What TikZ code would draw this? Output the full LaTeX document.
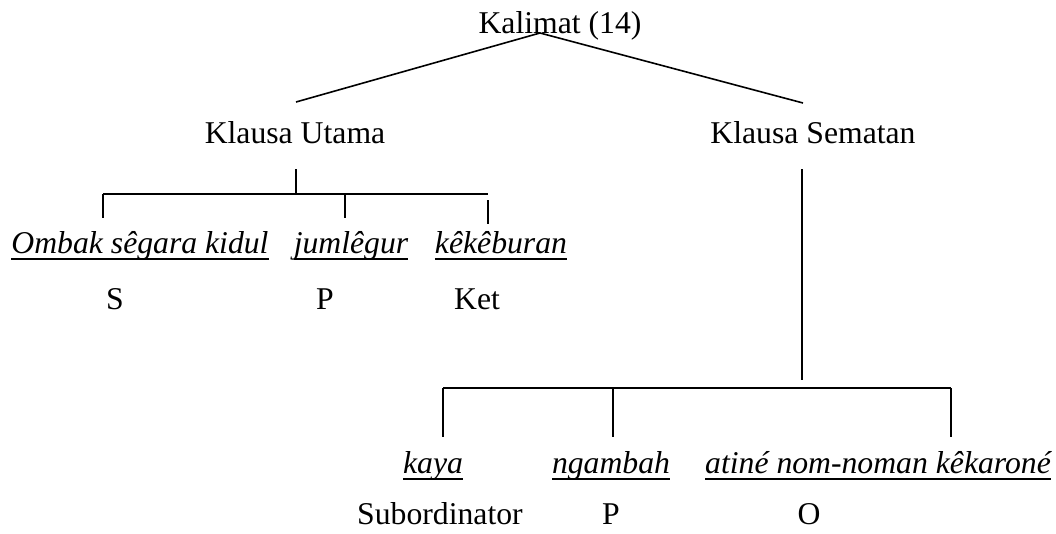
\documentclass[tikz,border=0pt]{standalone}
\usepackage{fontspec}
\setmainfont{Liberation Serif}
\usepackage{tikz}
\usetikzlibrary{positioning, calc}

\newsavebox\ulbox
\newcommand\ulword[1]{\sbox\ulbox{#1}\rlap{\rule[-6.5pt]{\wd\ulbox}{1.8pt}}\usebox\ulbox}

\begin{document}
\begin{tikzpicture}[x=1pt, y=-1pt, line width=1.6pt,
  font=\fontsize{31.7pt}{38pt}\selectfont,
  every node/.style={inner sep=0pt, anchor=base},
  word/.style={font=\fontsize{31.7pt}{38pt}\selectfont\itshape}]
\useasboundingbox (0,0) rectangle (1056,533);

% top level
\node (kalimat) at (560,33) {Kalimat (14)};
\node (utama) at (295,143) {Klausa Utama};
\node (sematan) at (813,143) {Klausa Sematan};

\coordinate (apex) at (540,33);
\coordinate (utamaIn) at (296,102);
\coordinate (sematanIn) at (803,103);
\draw (apex) -- (utamaIn);
\draw (apex) -- (sematanIn);

% klausa utama
\node[word] (ombak) at (140,253) {\ulword{Ombak sêgara kidul}};
\node[word] (jumlegur) at (351,253) {\ulword{jumlêgur}};
\node[word] (kekeburan) at (501,253) {\ulword{kêkêburan}};
\node (s1) at (115,309) {S};
\node (p1) at (325,309) {P};
\node (ket) at (477,309) {Ket};

\coordinate (uTop) at (296,169);
\coordinate (uMid) at (296,194);
\coordinate (uL) at (103,194);
\coordinate (uR) at (488,194);
\coordinate (uA) at (103,218);
\coordinate (uB0) at (345,194);
\coordinate (uB) at (345,218);
\coordinate (uC0) at (488,200);
\coordinate (uC) at (488,224);
\draw (uTop) -- (uMid);
\draw (uL) -- (uR);
\draw (uL) -- (uA);
\draw (uB0) -- (uB);
\draw (uC0) -- (uC);

% klausa sematan
\node[word] (kaya) at (433,473) {\ulword{kaya}};
\node[word] (ngambah) at (611,473) {\ulword{ngambah}};
\node[word] (atine) at (878,473) {\ulword{atiné nom-noman kêkaroné}};
\node (sub) at (440,524) {Subordinator};
\node (p2) at (611,524) {P};
\node (o) at (809,524) {O};

\coordinate (sTop) at (802,169);
\coordinate (sEnd) at (802,380);
\coordinate (sL) at (443,388);
\coordinate (sR) at (951,388);
\coordinate (sA) at (443,437);
\coordinate (sB0) at (613,388);
\coordinate (sB) at (613,437);
\coordinate (sC) at (951,437);
\draw (sTop) -- (sEnd);
\draw (sL) -- (sR);
\draw (sL) -- (sA);
\draw (sB0) -- (sB);
\draw (sR) -- (sC);
\end{tikzpicture}
\end{document}
